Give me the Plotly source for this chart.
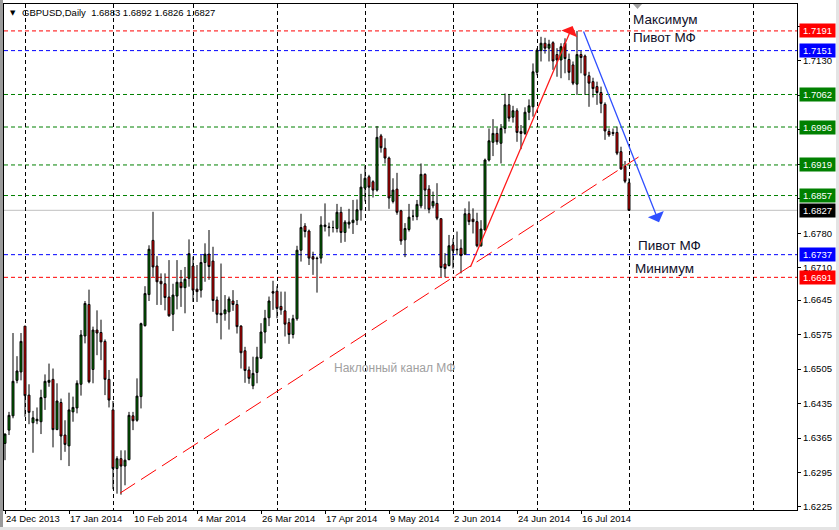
import plotly.graph_objects as go

# ---------------- data (bar index 0 = 24 Dec 2013, daily bars) ----------------
opens = [1.6354,1.6381,1.6410,1.6482,1.6499,1.6592,1.6452,1.6396,1.6400,1.6398,
         1.6447,1.6478,1.6484,1.6382,1.6437,1.6371,1.6349,1.6418,1.6426,1.6474,
         1.6572,1.6636,1.6504,1.6584,1.6579,1.6561,1.6484,1.6422,1.6303,1.6323,
         1.6308,1.6321,1.6410,1.6401,1.6449,1.6593,1.6656,1.6766,1.6714,1.6683,
         1.6678,1.6651,1.6616,1.6653,1.6681,1.6670,1.6689,1.6714,1.6667,1.6665,
         1.6721,1.6738,1.6724,1.6645,1.6618,1.6617,1.6621,1.6643,1.6636,1.6592,
         1.6542,1.6503,1.6471,1.6498,1.6527,1.6580,1.6609,1.6662,1.6663,1.6632,
         1.6623,1.6599,1.6575,1.6607,1.6746,1.6795,1.6785,1.6733,1.6730,1.6730,
         1.6794,1.6792,1.6792,1.6790,1.6823,1.6782,1.6799,1.6802,1.6807,1.6828,
         1.6872,1.6895,1.6885,1.6868,1.6978,1.6953,1.6933,1.6845,1.6870,1.6826,
         1.6767,1.6788,1.6815,1.6814,1.6836,1.6900,1.6870,1.6836,1.6841,1.6810,
         1.6718,1.6715,1.6757,1.6748,1.6750,1.6738,1.6820,1.6809,1.6804,1.6755,
         1.6787,1.6929,1.6965,1.6983,1.6963,1.6993,1.7041,1.7016,1.7029,1.6987,
         1.6983,1.7026,1.7037,1.7107,1.7151,1.7166,1.7156,1.7167,1.7143,1.7132,
         1.7166,1.7133,1.7122,1.7083,1.7143,1.7140,1.7100,1.7088,1.7078,1.7066,
         1.7042,1.6987,1.6985,1.6985,1.6946,1.6916,1.6883]
highs = [1.6374,1.6418,1.6578,1.6531,1.6578,1.6592,1.6474,1.6420,1.6427,1.6463,
         1.6494,1.6516,1.6506,1.6476,1.6445,1.6401,1.6457,1.6449,1.6482,1.6584,
         1.6643,1.6666,1.6591,1.6624,1.6605,1.6565,1.6503,1.6440,1.6328,1.6340,
         1.6340,1.6418,1.6418,1.6486,1.6599,1.6673,1.6756,1.6824,1.6734,1.6699,
         1.6699,1.6726,1.6678,1.6726,1.6706,1.6712,1.6768,1.6733,1.6716,1.6736,
         1.6760,1.6787,1.6753,1.6652,1.6719,1.6655,1.6652,1.6665,1.6645,1.6594,
         1.6550,1.6510,1.6530,1.6550,1.6598,1.6625,1.6652,1.6684,1.6673,1.6662,
         1.6662,1.6608,1.6615,1.6755,1.6820,1.6801,1.6788,1.6743,1.6733,1.6815,
         1.6841,1.6802,1.6806,1.6840,1.6834,1.6807,1.6830,1.6848,1.6849,1.6901,
         1.6917,1.6899,1.6888,1.6998,1.6982,1.6973,1.6936,1.6892,1.6903,1.6828,
         1.6801,1.6840,1.6828,1.6848,1.6922,1.6902,1.6878,1.6865,1.6882,1.6811,
         1.6740,1.6777,1.6770,1.6784,1.6768,1.6831,1.6845,1.6831,1.6822,1.6807,
         1.6932,1.6993,1.7012,1.6995,1.7002,1.7064,1.7063,1.7039,1.7034,1.7000,
         1.7036,1.7052,1.7125,1.7156,1.7179,1.7177,1.7173,1.7170,1.7156,1.7166,
         1.7176,1.7145,1.7129,1.7191,1.7150,1.7143,1.7108,1.7096,1.7088,1.7078,
         1.7046,1.6993,1.6993,1.6997,1.6956,1.6927,1.6892]
lows = [1.6320,1.6371,1.6405,1.6476,1.6482,1.6408,1.6393,1.6335,1.6393,1.6373,
        1.6422,1.6469,1.6346,1.6381,1.6320,1.6337,1.6308,1.6398,1.6415,1.6451,
        1.6557,1.6476,1.6476,1.6533,1.6523,1.6452,1.6427,1.6261,1.6252,1.6250,
        1.6269,1.6320,1.6381,1.6398,1.6425,1.6591,1.6643,1.6692,1.6635,1.6635,
        1.6624,1.6611,1.6582,1.6626,1.6631,1.6618,1.6672,1.6641,1.6641,1.6650,
        1.6682,1.6686,1.6621,1.6598,1.6565,1.6603,1.6585,1.6623,1.6577,1.6506,
        1.6477,1.6475,1.6464,1.6476,1.6525,1.6557,1.6592,1.6625,1.6608,1.6615,
        1.6571,1.6556,1.6567,1.6603,1.6723,1.6772,1.6716,1.6696,1.6660,1.6719,
        1.6784,1.6774,1.6782,1.6782,1.6761,1.6763,1.6790,1.6779,1.6797,1.6806,
        1.6845,1.6826,1.6853,1.6865,1.6944,1.6922,1.6830,1.6841,1.6818,1.6757,
        1.6732,1.6784,1.6806,1.6807,1.6831,1.6829,1.6821,1.6831,1.6807,1.6692,
        1.6691,1.6713,1.6709,1.6736,1.6699,1.6736,1.6797,1.6780,1.6752,1.6753,
        1.6786,1.6926,1.6937,1.6960,1.6922,1.6983,1.7007,1.7005,1.6966,1.6951,
        1.6980,1.7010,1.7017,1.7101,1.7129,1.7145,1.7129,1.7112,1.7098,1.7095,
        1.7105,1.7091,1.7081,1.7061,1.7105,1.7061,1.7037,1.7056,1.7041,1.7024,
        1.6970,1.6976,1.6978,1.6939,1.6909,1.6882,1.6826]
closes = [1.6373,1.6411,1.6480,1.6501,1.6561,1.6451,1.6417,1.6406,1.6403,1.6447,
          1.6480,1.6482,1.6382,1.6440,1.6369,1.6352,1.6422,1.6427,1.6476,1.6574,
          1.6638,1.6479,1.6584,1.6578,1.6560,1.6484,1.6442,1.6303,1.6323,1.6308,
          1.6320,1.6411,1.6400,1.6450,1.6597,1.6658,1.6748,1.6712,1.6682,1.6678,
          1.6650,1.6613,1.6655,1.6681,1.6670,1.6687,1.6739,1.6665,1.6662,1.6721,
          1.6738,1.6713,1.6644,1.6616,1.6615,1.6625,1.6647,1.6636,1.6591,1.6538,
          1.6502,1.6486,1.6496,1.6529,1.6580,1.6608,1.6643,1.6659,1.6628,1.6625,
          1.6596,1.6575,1.6607,1.6746,1.6792,1.6784,1.6730,1.6728,1.6729,1.6797,
          1.6797,1.6793,1.6792,1.6823,1.6782,1.6803,1.6803,1.6807,1.6828,1.6874,
          1.6892,1.6874,1.6868,1.6975,1.6954,1.6933,1.6852,1.6868,1.6823,1.6765,
          1.6790,1.6813,1.6815,1.6839,1.6900,1.6868,1.6829,1.6845,1.6811,1.6711,
          1.6709,1.6755,1.6745,1.6747,1.6735,1.6820,1.6804,1.6804,1.6755,1.6789,
          1.6929,1.6968,1.6983,1.6966,1.6993,1.7041,1.7014,1.7029,1.6985,1.6983,
          1.7026,1.7039,1.7108,1.7152,1.7166,1.7156,1.7164,1.7130,1.7132,1.7159,
          1.7135,1.7107,1.7085,1.7143,1.7137,1.7101,1.7085,1.7074,1.7066,1.7044,
          1.6988,1.6980,1.6983,1.6943,1.6911,1.6886,1.6827]

# x-axis date labels (bar index -> label)
date_tick_idx = [0, 16, 32, 48, 64, 80, 96, 112, 128, 144]
date_tick_text = ["24 Dec 2013", "17 Jan 2014", "10 Feb 2014", "4 Mar 2014", "26 Mar 2014",
                  "17 Apr 2014", "9 May 2014", "2 Jun 2014", "24 Jun 2014", "16 Jul 2014"]
# month separators (bar index of first bar of each month)
month_start_idx = [5, 27, 47, 68, 90, 112, 133, 156, 187]

# price scale ticks (labels hidden behind level boxes are left blank)
price_ticks = [1.7200, 1.7130, 1.7060, 1.6990, 1.6920, 1.6850, 1.6780, 1.6710,
               1.6645, 1.6575, 1.6505, 1.6435, 1.6365, 1.6295, 1.6225]
hidden_price_ticks = [1.7060, 1.6990, 1.6920, 1.6850]

# horizontal levels
level_prices = [1.7191, 1.7151, 1.7062, 1.6996, 1.6919, 1.6857, 1.6827, 1.6737, 1.6691]
level_colors = ["#ff0000", "#0000ff", "#008000", "#008000", "#008000", "#008000", "#000000", "#0000ff", "#ff0000"]

# trend objects (bar index, price)
channel_line = [(28.75, 1.6253), (159.5, 1.6941)]
red_arrow = [(116.2, 1.6709), (141.9, 1.7201)]
blue_arrow = [(144.5, 1.7193), (163.5, 1.6803)]

# text labels (bar index, price, text)
chart_texts = [(156.5, 1.72141, "Максимум"), (156.5, 1.71776, "Пивот МФ"),
               (157.75, 1.67556, "Пивот МФ"), (157.0, 1.67089, "Минимум")]
channel_text = (81.75, 1.6507, "Наклонный канал МФ")
title_text = "GBPUSD,Daily  1.6883 1.6892 1.6826 1.6827"

# ---------------- figure ----------------
W, H = 839, 530
ML, MR, MT, MB = 4, 42, 4, 20
PW, PH = W - ML - MR, H - MT - MB

def px(x):
    return (x - ML) / PW

def py(y):
    return 1 - (y - MT) / PH

FONT = "Liberation Sans, Arial, sans-serif"
xs = list(range(len(opens)))

fig = go.Figure()
fig.add_trace(go.Candlestick(
    x=xs, open=opens, high=highs, low=lows, close=closes,
    increasing=dict(line=dict(color="black", width=1), fillcolor="#008000"),
    decreasing=dict(line=dict(color="black", width=1), fillcolor="#ff0000"),
    whiskerwidth=0, hoverinfo="skip", showlegend=False))

shapes = []
for p, c in zip(level_prices, level_colors):
    if c == "#000000":
        shapes.append(dict(type="line", xref="paper", yref="y", x0=0, x1=1, y0=p, y1=p,
                           line=dict(color="#c0c0c0", width=1), layer="below"))
    else:
        shapes.append(dict(type="line", xref="paper", yref="y", x0=0, x1=1, y0=p, y1=p,
                           line=dict(color=c, width=1, dash="4px,3px"), layer="below"))

shapes.append(dict(type="line", xref="x", yref="y",
                   x0=channel_line[0][0], y0=channel_line[0][1],
                   x1=channel_line[1][0], y1=channel_line[1][1],
                   line=dict(color="#ff0000", width=1, dash="18px,7px")))

# chart shift marker
shapes.append(dict(type="path", xref="paper", yref="paper",
                   path=f"M {px(633)} {py(4)} L {px(642)} {py(4)} L {px(637.5)} {py(9)} Z",
                   fillcolor="#a0a0a0", line=dict(width=0)))
# window frame strips
shapes.append(dict(type="rect", xref="paper", yref="paper", x0=px(0), x1=px(3), y0=py(530), y1=py(0),
                   fillcolor="#9a9a9a", line=dict(width=0)))
shapes.append(dict(type="rect", xref="paper", yref="paper", x0=px(0), x1=px(839), y0=py(530), y1=py(527),
                   fillcolor="#e4e4e4", line=dict(width=0)))
shapes.append(dict(type="rect", xref="paper", yref="paper", x0=px(836), x1=px(839), y0=py(530), y1=py(0),
                   fillcolor="#e4e4e4", line=dict(width=0)))

annotations = []
for p, c in zip(level_prices, level_colors):
    annotations.append(dict(xref="paper", yref="y", x=px(799), y=p, xanchor="left", yanchor="middle",
                            text=f"{p:.4f}", showarrow=False, bgcolor=c, width=33, height=11,
                            borderpad=1, font=dict(family=FONT, size=9.5, color="white")))
for seg, col in ((red_arrow, "#ff1a1a"), (blue_arrow, "#3050ff")):
    annotations.append(dict(xref="x", yref="y", axref="x", ayref="y",
                            x=seg[1][0], y=seg[1][1], ax=seg[0][0], ay=seg[0][1],
                            text="", showarrow=True, arrowhead=1, arrowsize=2.2,
                            arrowwidth=1.3, arrowcolor=col))
for xi, yp, t in chart_texts:
    annotations.append(dict(xref="x", yref="y", x=xi, y=yp, xanchor="left", yanchor="middle",
                            text=t, showarrow=False, font=dict(family=FONT, size=13.5, color="#10102a")))
annotations.append(dict(xref="x", yref="y", x=channel_text[0], y=channel_text[1], xanchor="left",
                        yanchor="middle", text=channel_text[2], showarrow=False,
                        font=dict(family=FONT, size=12, color="#a0a0a0")))
annotations.append(dict(xref="paper", yref="paper", x=px(20), y=py(12.5), xanchor="left", yanchor="middle",
                        text=title_text, showarrow=False, font=dict(family=FONT, size=9.5, color="black")))
annotations.append(dict(xref="paper", yref="paper", x=px(7.5), y=py(12.5), xanchor="left", yanchor="middle",
                        text="▼", showarrow=False, font=dict(family="DejaVu Sans", size=7, color="black")))

fig.update_layout(
    width=W, height=H, autosize=False,
    margin=dict(l=ML, r=MR, t=MT, b=MB),
    paper_bgcolor="white", plot_bgcolor="white",
    shapes=shapes, annotations=annotations, showlegend=False,
    xaxis=dict(range=[-0.25, 198], tickmode="array", tickvals=date_tick_idx, ticktext=date_tick_text,
               ticks="outside", ticklen=3, tickcolor="black", showline=True, linecolor="black",
               linewidth=1, mirror=True, showgrid=False, zeroline=False,
               ticklabelposition="outside right",
               tickfont=dict(family=FONT, size=9.5, color="black"),
               rangeslider=dict(visible=False),
               minor=dict(tickmode="array", tickvals=month_start_idx, showgrid=True,
                          gridcolor="black", griddash="4px,3px", gridwidth=1, ticks="")),
    yaxis=dict(side="right", range=[1.62189, 1.72456], tickmode="array", tickvals=price_ticks,
               ticktext=["" if v in hidden_price_ticks else f"{v:.4f}" for v in price_ticks],
               ticks="outside", ticklen=3,
               tickcolor="black", showline=True, linecolor="black", linewidth=1, mirror=True,
               showgrid=False, zeroline=False,
               tickfont=dict(family=FONT, size=9.5, color="black")),
)

fig.write_html("out.html", config={"displayModeBar": False},
               post_script="document.body.style.margin='0px';document.body.style.overflow='hidden';")
